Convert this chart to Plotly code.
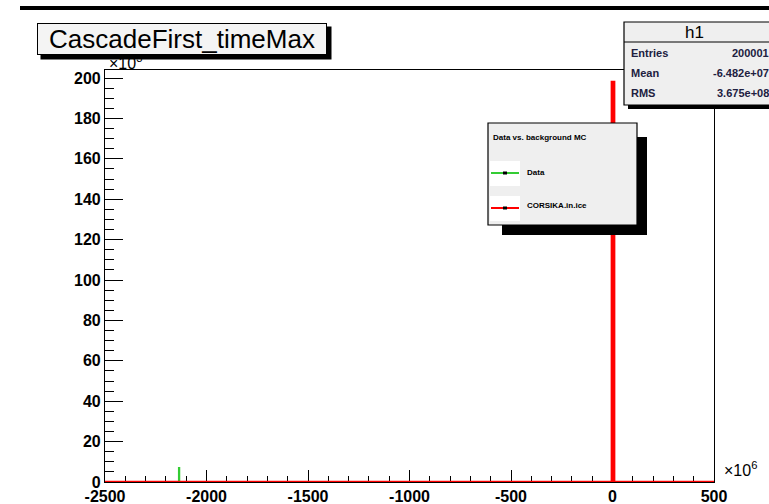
import plotly.graph_objects as go

# ---- data (x in units of 1e6, counts in units of 1e3) ----
red_bin_edges = [-2500, -3, 8, 500]
red_counts = [0, 198, 0]
green_bin_edges = [-2500, -2137, -2133, 500]
green_counts = [0, 7, 0]
x_tick_vals = [-2500, -2000, -1500, -1000, -500, 0, 500]
x_tick_labels = ["-2500", "-2000", "-1500", "-1000", "-500", "0", "500"]
y_tick_vals = [0, 20, 40, 60, 80, 100, 120, 140, 160, 180, 200]
y_tick_labels = ["0", "20", "40", "60", "80", "100", "120", "140", "160", "180", "200"]
stats_labels = ["Entries", "Mean", "RMS"]
stats_values = ["200001", "-6.482e+07", "3.675e+08"]
legend_title = "Data vs. background MC"
legend_names = ["Data", "CORSIKA.in.ice"]
legend_colors = ["#33cc33", "#ff0000"]


def step(edges, counts):
    xs, ys = [], []
    for i, c in enumerate(counts):
        xs += [edges[i], edges[i + 1]]
        ys += [c, c]
    return xs, ys


W, H = 769, 504
L, R, T, B = 105, 714, 70, 482  # plot frame in page pixels


def px(x):
    return (x - L) / (R - L)


def py(y):
    return (B - y) / (B - T)


fig = go.Figure()
gx, gy = step(green_bin_edges, green_counts)
fig.add_trace(go.Scatter(x=gx, y=gy, mode="lines", line=dict(color="#33cc33", width=1.5),
                         showlegend=False, hoverinfo="skip", cliponaxis=False))
rx, ry = step(red_bin_edges, red_counts)
fig.add_trace(go.Scatter(x=rx, y=ry, mode="lines", line=dict(color="#ff0000", width=2.5),
                         showlegend=False, hoverinfo="skip", cliponaxis=False))

font = "Liberation Sans, Arial, sans-serif"
shapes = []


def rect(x0, y0, x1, y1, fill, line_w=0, line_c="black"):
    shapes.append(dict(type="rect", xref="paper", yref="paper", layer="above",
                       x0=px(x0), x1=px(x1), y0=py(y1), y1=py(y0),
                       fillcolor=fill, line=dict(width=line_w, color=line_c)))


def hline(x0, x1, y, color, width):
    shapes.append(dict(type="line", xref="paper", yref="paper", layer="above",
                       x0=px(x0), x1=px(x1), y0=py(y), y1=py(y),
                       line=dict(color=color, width=width)))


# top bar
rect(20, 6, 780, 10, "black")
# stats box
rect(628, 26, 790, 109, "black")
rect(624, 22, 788, 105, "#efefef", 1.2)
hline(624, 788, 42, "black", 1)
# legend box
rect(502, 137, 647, 235, "black")
rect(488, 123, 637, 225, "#efefef", 1.2)
for i, c in enumerate(legend_colors):
    yc = 173 + 35 * i
    rect(490, yc - 12, 520, yc + 13, "white")
    hline(491, 519, yc, c, 2)
    rect(503, yc - 1.5, 507, yc + 1.5, "black")

ann = []


def text(x, y, s, size, anchor="center", bold=False, color="black", **kw):
    ann.append(dict(xref="paper", yref="paper", x=px(x), y=py(y), text=("<b>%s</b>" % s) if bold else s,
                    showarrow=False, xanchor=anchor, yanchor="middle",
                    font=dict(family=font, size=size, color=color), **kw))


# y-axis multiplier (partly hidden by the title box shadow)
text(125, 62, "×10<sup>3</sup>", 16)
# title box: shadow then box (annotations so they cover the multiplier)
text(186, 43, " ", 10, bgcolor="black", width=290, height=32, borderpad=0)
text(182, 39, "CascadeFirst_timeMax", 26, bgcolor="#f4f4f4", bordercolor="black",
     borderwidth=1, width=288, height=30, borderpad=0)
text(694, 33, "h1", 17)
for i, (lab, val) in enumerate(zip(stats_labels, stats_values)):
    yc = 53 + 20 * i
    text(629, yc, lab, 11, "left", bold=True, color="#202040")
    text(771, yc, val, 11, "right", bold=True, color="#202040")
text(491, 137, legend_title, 8, "left", bold=True)
for i, n in enumerate(legend_names):
    text(525, 172 + 34 * i, n, 8, "left", bold=True)
text(740, 469, "×10<sup>6</sup>", 16)

tickfont = dict(family=font, size=16, color="black")
fig.update_layout(
    width=W, height=H,
    margin=dict(l=L, r=W - R, t=T, b=H - B, pad=0, autoexpand=False),
    paper_bgcolor="white", plot_bgcolor="white",
    shapes=shapes, annotations=ann, showlegend=False,
    xaxis=dict(range=[-2500, 500], showgrid=False, zeroline=False, automargin=False,
               showline=True, linecolor="black", linewidth=1.2, mirror=True, layer="below traces",
               tickmode="array", tickvals=x_tick_vals, ticktext=[f"<b>{t}</b>" for t in x_tick_labels],
               ticks="inside", ticklen=12, tickcolor="black", tickwidth=1.2,
               minor=dict(dtick=100, ticks="inside", ticklen=6, tickcolor="black", tickwidth=1.2),
               tickfont=tickfont),
    yaxis=dict(range=[0, 204], showgrid=False, zeroline=False, automargin=False,
               showline=True, linecolor="black", linewidth=1.2, mirror=True, layer="below traces",
               tickmode="array", tickvals=y_tick_vals, ticktext=[f"<b>{t}</b>" for t in y_tick_labels],
               ticks="inside", ticklen=18, tickcolor="black", tickwidth=1.2,
               minor=dict(dtick=5, ticks="inside", ticklen=9, tickcolor="black", tickwidth=1.2),
               tickfont=tickfont),
)

fig.write_html(
    "out.html",
    config={"displayModeBar": False},
    post_script="document.body.style.margin='0';document.documentElement.style.overflow='hidden';",
)
